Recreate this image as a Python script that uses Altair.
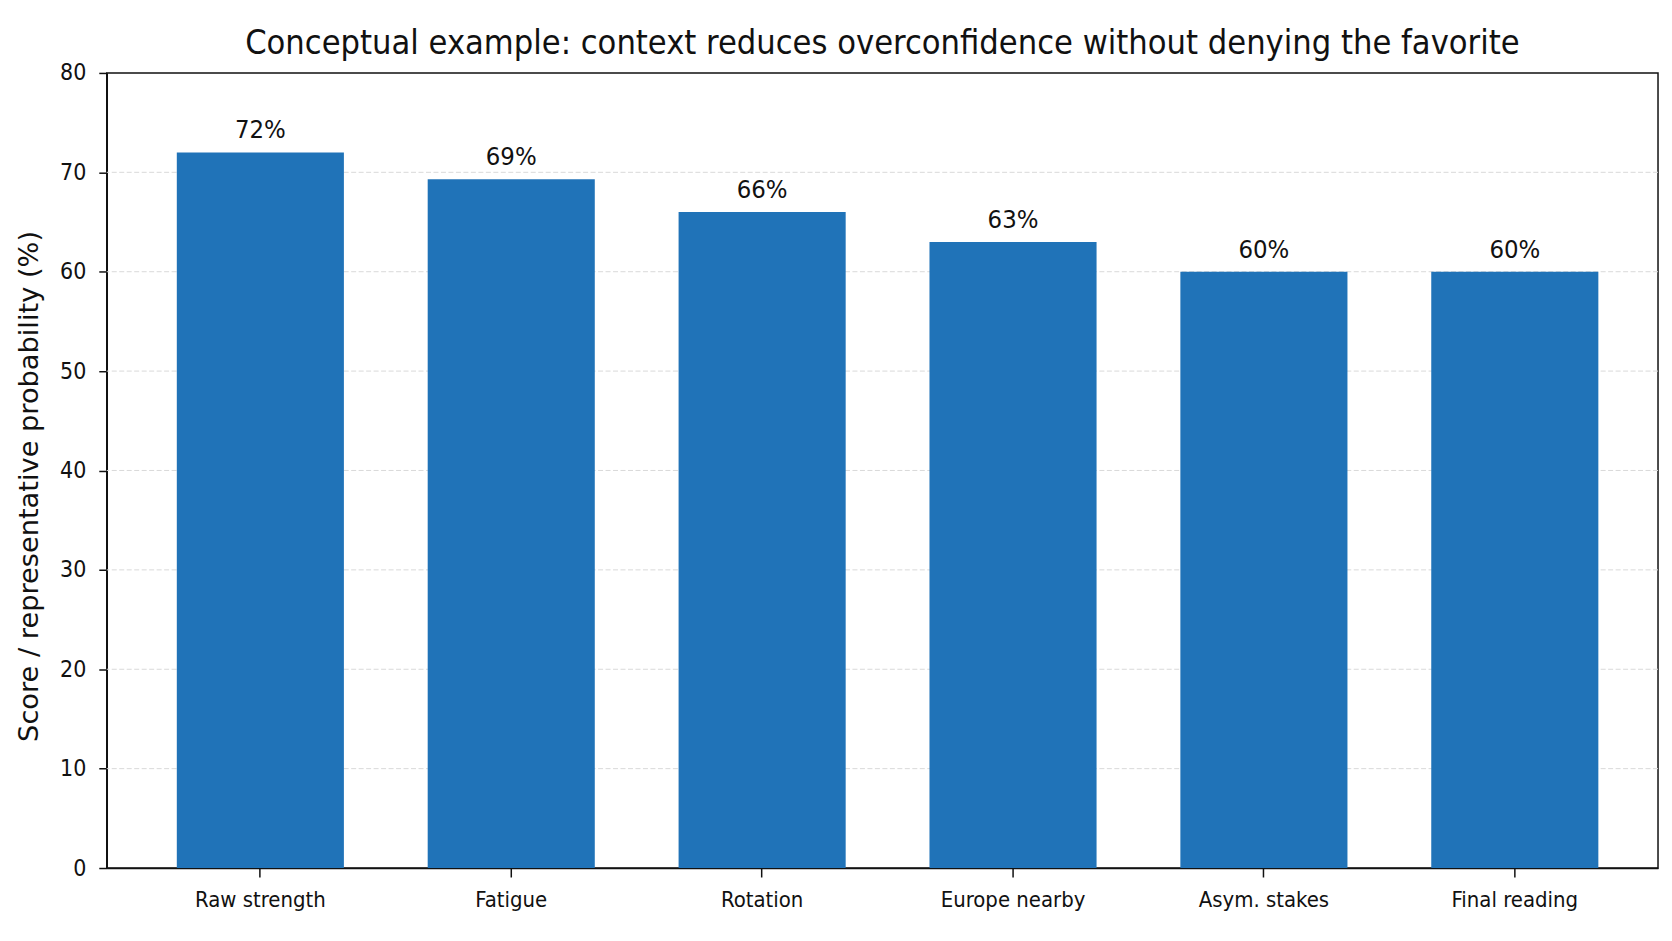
import altair as alt
import pandas as pd

categories = ["Raw strength", "Fatigue", "Rotation", "Europe nearby", "Asym. stakes", "Final reading"]
values = [72.0, 69.3, 66.0, 63.0, 60.0, 60.0]
labels = ["72%", "69%", "66%", "63%", "60%", "60%"]
y_ticks = [0, 10, 20, 30, 40, 50, 60, 70, 80]
grid_lines = [10, 20, 30, 40, 50, 60, 70]

df = pd.DataFrame({"cat": categories, "val": values, "lab": labels})
gdf = pd.DataFrame({"g": grid_lines})

COND = "DejaVu Sans Condensed, Liberation Sans Narrow, DejaVu Sans"
BLUE = "#2073b8"

x_enc = alt.X(
    "cat:N",
    sort=categories,
    scale=alt.Scale(paddingInner=0.334, paddingOuter=0.2585, align=0.54),
    axis=alt.Axis(
        title=None, labelAngle=0, labelFont=COND, labelFontSize=22, labelColor="#111111",
        labelPadding=13, tickSize=9, tickWidth=1.5, tickColor="#111111",
        domainColor="#111111", domainWidth=1.5, grid=False,
    ),
)
y_scale = alt.Scale(domain=[0, 80], nice=False, zero=True)
y_enc = alt.Y(
    "val:Q",
    scale=y_scale,
    axis=alt.Axis(
        values=y_ticks, title="Score / representative probability (%)",
        titleFont="DejaVu Sans", titleFontSize=27.3, titleFontWeight="normal", titleColor="#111111",
        titleX=-69, titleY=414, titleAngle=270, titleAlign="center", titleBaseline="alphabetic",
        labelFont=COND, labelFontSize=23, labelColor="#111111", labelPadding=13,
        tickSize=8, tickWidth=1.5, tickColor="#111111",
        domainColor="#111111", domainWidth=1.5, grid=False,
    ),
)

grid = alt.Chart(gdf).mark_rule(color="#d9d9d9", strokeWidth=1, strokeDash=[5, 2.5]).encode(
    y=alt.Y("g:Q", scale=y_scale)
)
bars = alt.Chart(df).mark_bar(color=BLUE).encode(x=x_enc, y=y_enc)
texts = alt.Chart(df).mark_text(
    baseline="alphabetic", dy=-14, font=COND, fontSize=25.5, color="#111111"
).encode(x=alt.X("cat:N", sort=categories), y="val:Q", text="lab:N")

chart = (
    alt.layer(grid, bars, texts)
    .properties(
        width=1555,
        height=797,
        background="white",
        title=alt.TitleParams(
            "Conceptual example: context reduces overconfidence without denying the favorite",
            font=COND, fontSize=34.2, fontWeight="normal", color="#111111",
            anchor="middle", baseline="alphabetic", offset=-26,
        ),
        padding={"left": 7, "top": 17, "right": 5, "bottom": 5},
    )
    .configure_view(stroke="#111111", strokeWidth=1.5)
)

chart.save("out.html", embed_options={"renderer": "svg", "actions": False})
